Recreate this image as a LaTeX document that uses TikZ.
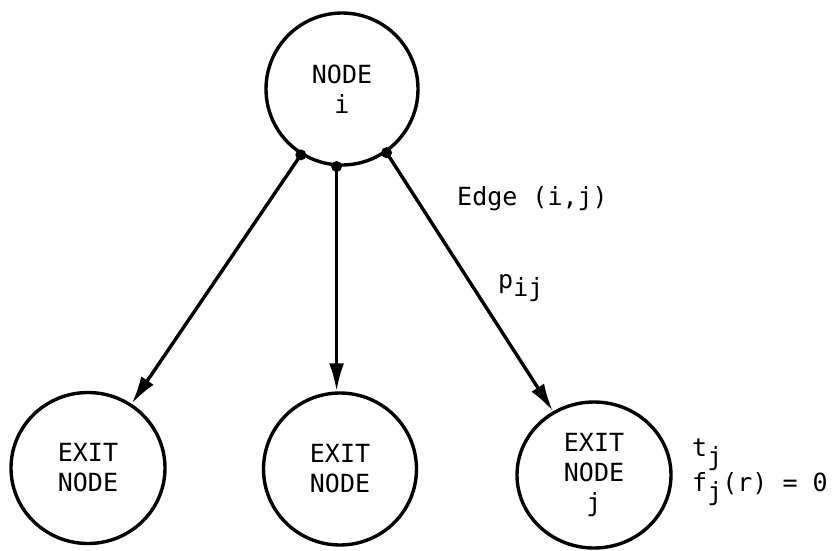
\documentclass[tikz,border=0pt]{standalone}
\usepackage{fontspec}
\setmonofont{DejaVu Sans Mono}
\usetikzlibrary{shapes.geometric,arrows.meta}
\begin{document}
\begin{tikzpicture}[x=1pt,y=-1pt,
  every node/.style={font=\ttfamily\fontsize{25}{30}\selectfont},
  nodecirc/.style={draw,ellipse,line width=3.4pt,inner sep=0pt,align=center},
  edgearrow/.style={line width=3.4pt,-{Latex[length=28pt,width=15pt]}},
  joint/.style={circle,fill,inner sep=0pt,minimum size=11pt}]
\useasboundingbox[fill=white] (0,0) rectangle (833,550);
\node[nodecirc,minimum width=152pt,minimum height=152pt] (top) at (342,89) {NODE\\i};
\node[nodecirc,minimum width=154pt,minimum height=151pt] (exitL) at (88,468) {EXIT\\NODE};
\node[nodecirc,minimum width=153pt,minimum height=152pt] (exitM) at (340,469) {EXIT\\NODE};
\node[nodecirc,minimum width=154pt,minimum height=146pt] (exitR) at (594,475) {EXIT\\NODE\\j};
\node[joint] (jL) at (top.238) {};
\node[joint] (jM) at (top.266) {};
\node[joint] (jR) at (top.305) {};
\draw[edgearrow] (jL.center) -- (exitL);
\draw[edgearrow] (jM.center) -- (jM.center |- exitM.north);
\draw[edgearrow] (jR.center) -- (exitR);
\node[anchor=base west,inner sep=0pt] (edgelbl) at (457,205) {Edge (i,j)};
\node[anchor=base west,inner sep=0pt] (plbl) at (498,288) {p\raisebox{-8pt}{ij}};
\node[anchor=base west,inner sep=0pt] (tlbl) at (692,456) {t\raisebox{-9pt}{j}};
\node[anchor=base west,inner sep=0pt] (flbl) at (692,491) {f\raisebox{-9pt}{j}(r) = 0};
\end{tikzpicture}
\end{document}
